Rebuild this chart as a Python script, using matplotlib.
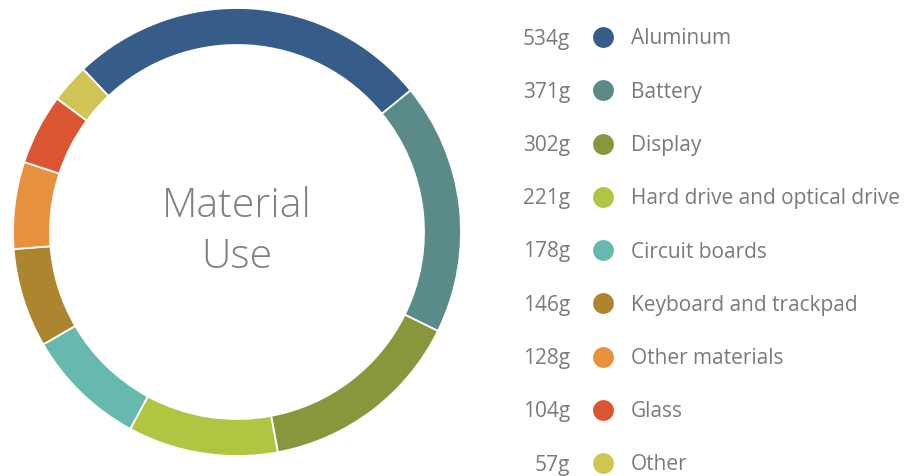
import matplotlib
matplotlib.use("Agg")
import matplotlib.pyplot as plt

# material use (grams)
labels = ["Aluminum", "Battery", "Display", "Hard drive and optical drive",
          "Circuit boards", "Keyboard and trackpad", "Other materials",
          "Glass", "Other"]
grams = [534, 371, 302, 221, 178, 146, 128, 104, 57]
colors = ["#365c8a", "#5a8b89", "#89963c", "#b1c543", "#67b9af",
          "#ae852f", "#e8913d", "#dc5533", "#d1c455"]

W, H = 911, 476
fig = plt.figure(figsize=(W / 100, H / 100), dpi=100)
ax = fig.add_axes([0, 0, 1, 1])

cx, cy, r = 237, H - 232, 224
ax.pie(grams, colors=colors, center=(cx, cy), radius=r, startangle=133.4,
       counterclock=False, frame=True,
       wedgeprops=dict(width=37, edgecolor="white", linewidth=1.3))
ax.set_xlim(0, W)
ax.set_ylim(0, H)
ax.set_aspect("equal")
ax.axis("off")

txt = "#808080"
fam = ["Open Sans", "DejaVu Sans"]
ax.text(cx, H - 217, "Material", ha="center", va="baseline", fontsize=29.5,
        color=txt, family=fam, fontweight="light")
ax.text(cx, H - 268, "Use", ha="center", va="baseline", fontsize=29.5,
        color=txt, family=fam, fontweight="light")

y0, dy = 37, 53.25
for i, (lab, g, c) in enumerate(zip(labels, grams, colors)):
    y = H - (y0 + i * dy)
    ax.text(570, y - 7.5, f"{g}g", ha="right", va="baseline", fontsize=15,
            color="#7a7a7a", family=fam)
    ax.plot(603, y, "o", ms=15, color=c, mec="none")
    ax.text(631, y - 7.5, lab, ha="left", va="baseline", fontsize=15,
            color="#7a7a7a", family=fam)

fig.savefig("out.png", dpi=100)
